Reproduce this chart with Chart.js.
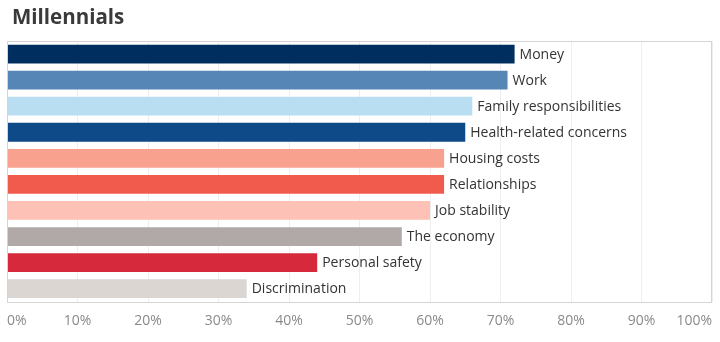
<!DOCTYPE html>
<html>
<head>
<meta charset="utf-8">
<script src="https://cdn.jsdelivr.net/npm/chart.js@4"></script>
<style>
html,body{margin:0;padding:0;background:#fff;}
#wrap{width:720px;height:342px;position:relative;}
</style>
</head>
<body>
<div id="wrap"><canvas id="c" width="720" height="342"></canvas></div>
<script>
const chartTitle = "Millennials";
const categories = ["Money","Work","Family responsibilities","Health-related concerns","Housing costs","Relationships","Job stability","The economy","Personal safety","Discrimination"];
const values = [72,71,66,65,62,62,60,56,44,34];
const barColors = ["#002f5f","#5586b5","#b9ddf1","#0e4a87","#f9a18f","#f15b4e","#fdc1b5","#b1a9a7","#d62a3c","#dcd6d3"];
const tickValues = [0,10,20,30,40,50,60,70,80,90,100];

const FONT = "'Open Sans', sans-serif";

const decorPlugin = {
  id: 'decor',
  afterDraw(chart) {
    const ctx = chart.ctx;
    const a = chart.chartArea;
    ctx.save();
    ctx.strokeStyle = '#d4d4d4';
    ctx.lineWidth = 1;
    ctx.strokeRect(Math.round(a.left)+0.5, Math.round(a.top)+0.5, Math.round(a.right-a.left)-1, Math.round(a.bottom-a.top));
    const meta = chart.getDatasetMeta(0);
    ctx.font = "14px " + FONT;
    ctx.fillStyle = '#333333';
    ctx.textBaseline = 'middle';
    ctx.textAlign = 'left';
    meta.data.forEach((el, i) => {
      ctx.fillText(categories[i], el.x + 5, el.y + 0.5);
    });
    ctx.font = "bold 20.5px " + FONT;
    ctx.fillStyle = '#3a3a3a';
    ctx.textBaseline = 'middle';
    ctx.fillText(chartTitle, 12, 18);
    ctx.restore();
  }
};

new Chart(document.getElementById('c'), {
  type: 'bar',
  data: {
    labels: categories,
    datasets: [{
      data: values,
      backgroundColor: barColors,
      borderWidth: 0,
      barPercentage: 0.72,
      categoryPercentage: 1.0
    }]
  },
  options: {
    indexAxis: 'y',
    responsive: false,
    animation: false,
    events: [],
    layout: { padding: { left: 7, right: 8, top: 41, bottom: 1.5 } },
    plugins: { legend: { display: false }, tooltip: { enabled: false }, title: { display: false } },
    scales: {
      y: { display: false },
      x: {
        min: 0, max: 100,
        afterBuildTicks(scale) { scale.ticks = tickValues.map(v => ({ value: v })); },
        afterFit(scale) { scale.paddingLeft = 0; scale.paddingRight = 0; },
        grid: { color: '#eeeeee', drawTicks: false, lineWidth: 1 },
        border: { display: false },
        ticks: {
          align: 'inner',
          padding: 11,
          color: '#8a8a8a',
          font: { size: 14, family: FONT },
          callback: (v) => v + '%'
        }
      }
    }
  },
  plugins: [decorPlugin]
});
</script>
</body>
</html>
